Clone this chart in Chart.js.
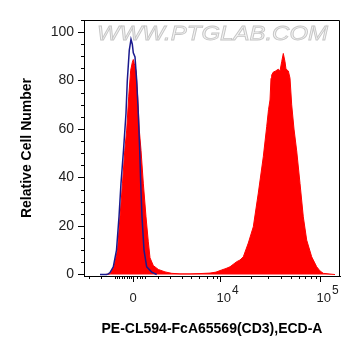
<!DOCTYPE html>
<html><head><meta charset="utf-8">
<script src="https://cdn.jsdelivr.net/npm/chart.js@4/dist/chart.umd.min.js"></script>
<style>html,body{margin:0;padding:0;background:#fff}canvas{display:block}</style>
</head><body>
<canvas id="c" width="361" height="356"></canvas>
<script>
// Display channel (0..256 across the plot) and relative counts
const controlChannel = [16, 22.7, 24.3, 26, 29.3, 32.5, 35, 37, 39.5, 42, 43.3, 45.3, 47, 48.3, 49.3, 51, 52.7, 54.3, 55.7, 56.7, 58, 60, 62.7, 67.7, 72.7];
const controlCount   = [0, 0, 0.3, 0.8, 3.2, 10.1, 23.8, 37.7, 51.3, 66.5, 80, 92.6, 97, 95, 91.5, 89.8, 80, 66.5, 51.3, 37.7, 23.8, 10.1, 3.2, 1, 0];

const sampleChannel = [21, 26, 30, 33.5, 36, 38.5, 40.8, 42.7, 44.7, 46.7, 48.3, 49.3, 50.3, 52, 53.7, 55.3, 57, 59.3, 62, 64.3, 66, 69.3, 74.3, 81, 87.7, 96, 106, 116, 126, 132, 137.7, 142, 146, 152.7, 156, 159.3, 164.3, 169.3, 174.3, 179.3, 182.7, 184.5, 186, 187, 187.7, 189.3, 191.7, 194.3, 196, 197.7, 199.3, 201, 202, 204.3, 206, 207.7, 210, 212.7, 216, 219.3, 222.7, 227.7, 232.7, 236, 239.3, 246, 251];
const sampleCount   = [0, 0.3, 3.2, 10.1, 23.8, 37.7, 51.3, 59.6, 73.3, 84.3, 87.5, 88.7, 87, 84, 73.3, 59.6, 51.3, 37.7, 23.8, 13.5, 6.9, 3.7, 2.1, 1.1, 0.5, 0.3, 0.3, 0.4, 0.6, 1.0, 1.9, 2.5, 3.2, 5.3, 6, 7.3, 13, 19.7, 33.6, 48.6, 61, 68, 72, 81, 82.3, 83.5, 84, 84.7, 84, 87.8, 91.2, 87.8, 84.7, 84, 81, 70, 60, 51, 37.6, 23.8, 14.2, 7.3, 3.2, 1.5, 0.5, 0.2, 0];

// Axis ticks
const xMajorTicks  = [49, 136.7, 236.7];
const xMajorLabels = [['0', ''], ['10', '4'], ['10', '5']];
const xMinorTicks  = [5, 17, 31, 33, 35, 37.5, 40, 43, 45, 47, 53, 56, 57.7, 61, 74.3, 86, 97.7, 106.7, 115, 122.7, 129.3, 133.3, 166.8, 184.4, 197, 206.6, 214.5, 221, 227, 232];
const yMajorTicks  = [0, 20, 40, 60, 80, 100];
const yMinorTicks  = [5, 10, 15, 25, 30, 35, 45, 50, 55, 65, 70, 75, 85, 90, 95, 105];

const FONT = '"Liberation Sans", Arial, sans-serif';

const toPoints = (xs, ys) => xs.map((v, i) => ({x: v, y: ys[i]}));

const decor = {
  id: 'decor',
  beforeDatasetsDraw(chart) {
    const {ctx, chartArea: a} = chart;
    ctx.save();
    ctx.font = 'italic 20px ' + FONT;
    ctx.textBaseline = 'alphabetic';
    ctx.translate(a.left + 13, a.top + 19.5);
    ctx.scale(1.2, 1);
    ctx.fillStyle = '#f3f3f3';
    ctx.strokeStyle = '#c6c6c6';
    ctx.lineWidth = 0.8;
    ctx.fillText('WWW.PTGLAB.COM', 0, 0);
    ctx.strokeText('WWW.PTGLAB.COM', 0, 0);
    ctx.restore();
  },
  afterDraw(chart) {
    const {ctx, chartArea: a, scales: {x, y}} = chart;
    ctx.save();
    ctx.strokeStyle = '#000';
    ctx.lineWidth = 1;
    ctx.beginPath();
    ctx.moveTo(a.left, a.top + 0.5); ctx.lineTo(a.right - 0.5, a.top + 0.5); ctx.lineTo(a.right - 0.5, a.bottom);
    for (const v of yMinorTicks) {
      const py = Math.round(y.getPixelForValue(v)) + 0.5;
      ctx.moveTo(a.left - 3, py); ctx.lineTo(a.left, py);
    }
    for (const v of xMinorTicks) {
      const px = Math.round(x.getPixelForValue(v)) + 0.5;
      ctx.moveTo(px, a.bottom); ctx.lineTo(px, a.bottom + 3);
    }
    ctx.stroke();
    ctx.fillStyle = '#222';
    ctx.textBaseline = 'alphabetic';
    xMajorTicks.forEach((v, i) => {
      const px = x.getPixelForValue(v);
      const [base, sup] = xMajorLabels[i];
      ctx.font = '13px ' + FONT;
      const w = ctx.measureText(base).width;
      if (!sup) {
        ctx.textAlign = 'center';
        ctx.fillText(base, px, a.bottom + 26);
      } else {
        ctx.textAlign = 'left';
        const sx = px + 3 - w / 2;
        ctx.fillText(base, sx, a.bottom + 26);
        ctx.font = '12px ' + FONT;
        ctx.fillText(sup, sx + w + 1, a.bottom + 17.5);
      }
    });
    ctx.restore();
  }
};

new Chart(document.getElementById('c'), {
  type: 'line',
  data: {
    datasets: [
      {
        label: 'Control',
        data: toPoints(controlChannel, controlCount),
        borderColor: '#1a1a8e',
        borderWidth: 1.5,
        fill: false,
        pointRadius: 0,
        tension: 0
      },
      {
        label: 'CD3',
        data: toPoints(sampleChannel, sampleCount),
        borderColor: '#ff0000',
        backgroundColor: '#ff0000',
        borderWidth: 1,
        fill: 'origin',
        pointRadius: 0,
        tension: 0
      }
    ]
  },
  options: {
    responsive: false,
    animation: false,
    devicePixelRatio: 1,
    layout: {padding: {top: 20, right: 21, left: 0, bottom: 0}},
    plugins: {legend: {display: false}, tooltip: {enabled: false}},
    scales: {
      x: {
        type: 'linear',
        min: 0, max: 256,
        afterBuildTicks: s => { s.ticks = xMajorTicks.map(v => ({value: v})); },
        afterFit: s => { s.height = 80; },
        ticks: {display: false},
        grid: {display: true, drawOnChartArea: false, drawTicks: true, tickLength: 6, color: '#000', tickColor: '#000'},
        border: {display: true, color: '#000', width: 1},
        title: {display: true, text: 'PE-CL594-FcA65569(CD3),ECD-A', color: '#000',
                font: {family: FONT, size: 14, weight: 'bold'}, padding: {top: 0, bottom: 18.6}}
      },
      y: {
        type: 'linear',
        min: -0.6, max: 105,
        afterBuildTicks: s => { s.ticks = yMajorTicks.map(v => ({value: v})); },
        afterFit: s => { s.width = 84; },
        ticks: {color: '#222', font: {family: FONT, size: 14}, padding: 4},
        grid: {display: true, drawOnChartArea: false, drawTicks: true, tickLength: 6, color: '#000', tickColor: '#000'},
        border: {display: true, color: '#000', width: 1},
        title: {display: true, text: 'Relative Cell Number', color: '#000',
                font: {family: FONT, size: 14, weight: 'bold'}, padding: {top: 18.6, bottom: 0}}
      }
    }
  },
  plugins: [decor]
});
</script>
</body></html>
